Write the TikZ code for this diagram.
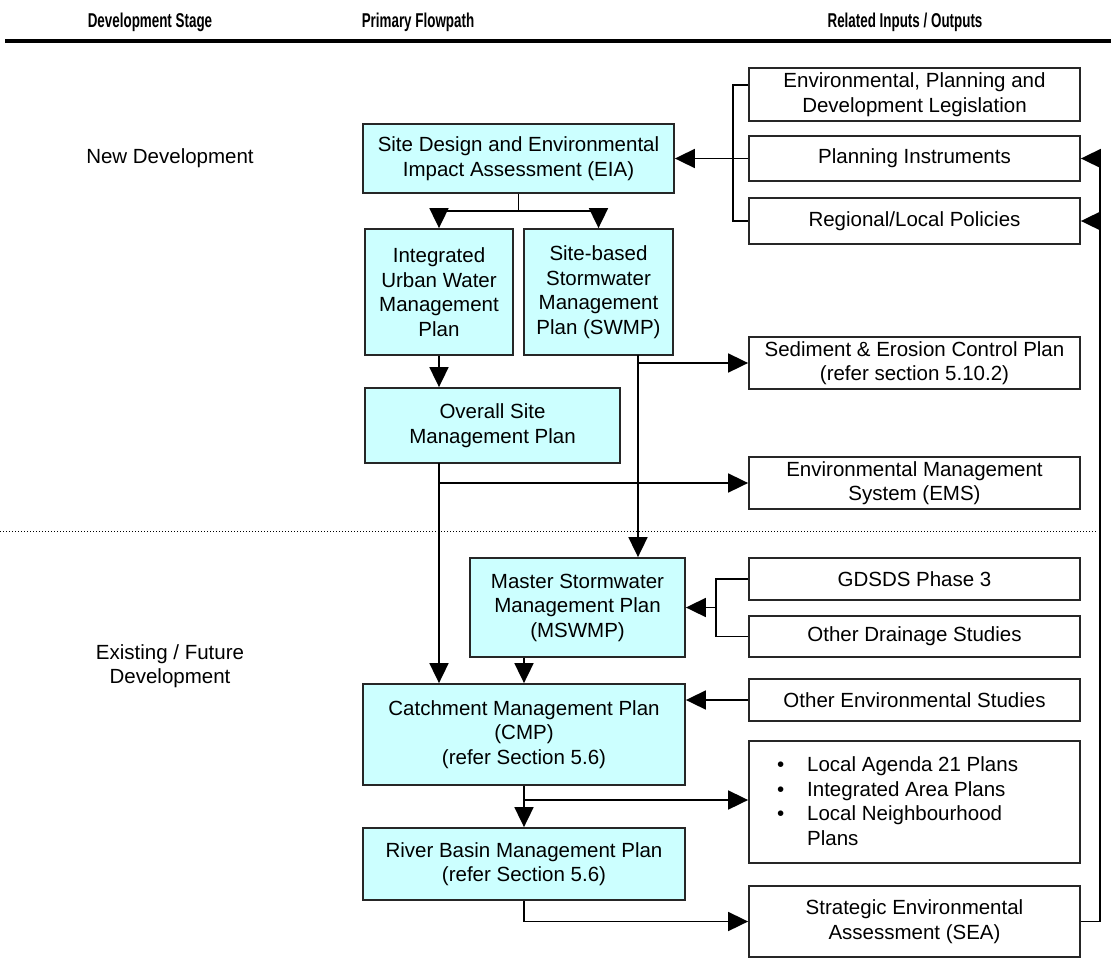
\documentclass[tikz,border=0pt]{standalone}
\usepackage{fontspec}
\setmainfont{Liberation Sans}
\newfontfamily\headfont[FakeStretch=0.67]{Liberation Sans}
\usetikzlibrary{arrows.meta}
\definecolor{plancyan}{HTML}{CCFFFF}

\begin{document}
\begin{tikzpicture}[
  x=1pt, y=-1pt,
  every node/.style={font=\fontsize{20.5}{24.5}\selectfont, align=center, inner sep=0pt},
  plan/.style 2 args={draw=black!85, line width=1.8pt, fill=plancyan, minimum width=#1pt, minimum height=#2pt},
  io/.style={draw=black!85, line width=1.8pt, fill=white, minimum width=331pt, minimum height=#1pt},
  head/.style={font=\fontsize{20}{22}\selectfont\headfont\bfseries},
  wire/.style={line width=1.8pt},
  link/.style={line width=1.8pt, -{Triangle[length=20pt,width=19pt]}},
]
  \useasboundingbox (0,0) rectangle (1111,961);

  % column headings
  \node[head] (hstage) at (150,22) {Development Stage};
  \node[head] (hflow) at (418,22) {Primary Flowpath};
  \node[head] (hio) at (905,22) {Related Inputs / Outputs};
  \draw[line width=4pt] (5,41) -- (1111,41);
  \draw[line width=0.9pt, dash pattern=on 1.2pt off 1.8pt] (0,531) -- (1097,531);

  \node (newdev) at (170,158.5) {New Development};
  \node (existdev) at (170,666) {Existing / Future\\Development};

  % primary flowpath
  \node[plan={311}{69}] (eia) at (518.5,158.5) {Site Design and Environmental\\Impact Assessment (EIA)};
  \node[plan={148}{126}] (iuwmp) at (439,292) {Integrated\\Urban Water\\Management\\Plan};
  \node[plan={149}{126}] (swmp) at (598.5,292) {Site-based\\Stormwater\\Management\\Plan (SWMP)};
  \node[plan={255}{75}] (osmp) at (492.5,425.5) {Overall Site\\Management Plan};
  \node[plan={215}{99}] (mswmp) at (577.5,607.5) {Master Stormwater\\Management Plan\\(MSWMP)};
  \node[plan={322}{101}] (cmp) at (524,734.5) {Catchment Management Plan\\(CMP)\\(refer Section 5.6)};
  \node[plan={322}{72}] (rbmp) at (524,864) {River Basin Management Plan\\(refer Section 5.6)};

  % inputs / outputs
  \node[io=53] (env) at (914.5,94.5) {Environmental, Planning and\\Development Legislation};
  \node[io=45] (pi) at (914.5,158.5) {Planning Instruments};
  \node[io=46] (rlp) at (914.5,221) {Regional/Local Policies};
  \node[io=52] (sec) at (914.5,363) {Sediment \& Erosion Control Plan\\(refer section 5.10.2)};
  \node[io=52] (ems) at (914.5,483) {Environmental Management\\System (EMS)};
  \node[io=42] (gds) at (914.5,579) {GDSDS Phase 3};
  \node[io=41] (ods) at (914.5,636.5) {Other Drainage Studies};
  \node[io=42] (oes) at (914.5,700) {Other Environmental Studies};
  \node[io=122] (bul) at (914.5,802) {};
  \node[anchor=west, align=left] (bultext) at (777,801)
    {\makebox[30pt][l]{\textbullet}Local Agenda 21 Plans\\
     \makebox[30pt][l]{\textbullet}Integrated Area Plans\\
     \makebox[30pt][l]{\textbullet}Local Neighbourhood\\
     \hspace*{30pt}Plans};
  \node[io=71] (sea) at (914.5,921.5) {Strategic Environmental\\Assessment (SEA)};

  \coordinate (split) at (518.5,211);
  \coordinate (swout) at (638,355);
  \coordinate (osout) at (439,463);
  \coordinate (gjoin) at (717,607.5);
  \coordinate (ret) at (1100,158.5);

  % connectors
  \draw[wire] ([yshift=9.5pt]env.west) -- ++(-15,0) |- (rlp.west);
  \draw[link] (pi.west) -- (eia.east);
  \draw[wire] (eia.south) -- (split);
  \draw[link] (split) -| (iuwmp.north);
  \draw[link] (split) -| (swmp.north);
  \draw[link] (iuwmp.south) -- (iuwmp.south |- osmp.north);
  \draw[link] (swout) -- (swout |- mswmp.north);
  \draw[link] (swout |- sec.west) -- (sec.west);
  \draw[link] (osout) -- (osout |- cmp.north);
  \draw[link] (osout |- ems.west) -- (ems.west);
  \draw[wire] (gds.west) -- ++(-32,0) |- (ods.west);
  \draw[link] (gjoin) -- (mswmp.east);
  \draw[link] (mswmp.south -| cmp.north) -- (cmp.north);
  \draw[link] (oes.west) -- (oes.west -| cmp.east);
  \draw[link] (cmp.south) -- (rbmp.north);
  \draw[link] (cmp.south |- 0,800) -- (bul.west |- 0,800);
  \draw[link] (rbmp.south) |- (sea.west);
  \draw[wire] (sea.east) -| (ret);
  \draw[link] (ret) -- (pi.east);
  \draw[link] (ret |- rlp.east) -- (rlp.east);
\end{tikzpicture}
\end{document}
